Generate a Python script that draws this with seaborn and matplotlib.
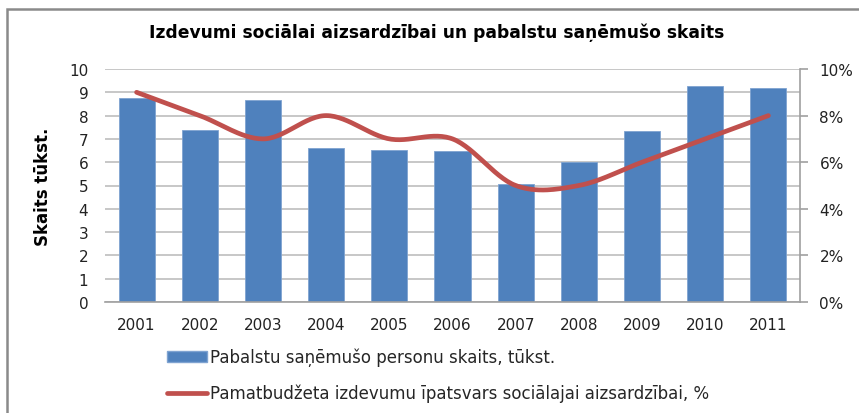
import numpy as np
import pandas as pd
import matplotlib
matplotlib.use("Agg")
import matplotlib.pyplot as plt
import seaborn as sns
from matplotlib.patches import Patch, Rectangle
from matplotlib.lines import Line2D
from matplotlib.ticker import FuncFormatter

years = ["2001", "2002", "2003", "2004", "2005", "2006", "2007", "2008", "2009", "2010", "2011"]
persons = [8.75, 7.37, 8.67, 6.6, 6.52, 6.47, 5.05, 6.0, 7.35, 9.27, 9.18]
share_pct = [9, 8, 7, 8, 7, 7, 5, 5, 6, 7, 8]

title = "Izdevumi sociālai aizsardzībai un pabalstu saņēmušo skaits"
ylabel = "Skaits tūkst."
bar_label = "Pabalstu saņēmušo personu skaits, tūkst."
line_label = "Pamatbudžeta izdevumu īpatsvars sociālajai aizsardzībai, %"

sns.set_theme(style="white")
plt.rcParams["font.family"] = ["DejaVu Sans"]

BLUE = "#4F81BD"
RED = "#C0504D"
GRID = "#BEBEBE"

fig = plt.figure(figsize=(8.59, 4.14), dpi=100)
ax = fig.add_axes([105 / 859, 1 - 303 / 414, 695 / 859, 233 / 414])

df = pd.DataFrame({"year": years, "persons": persons})
sns.barplot(data=df, x="year", y="persons", color=BLUE, width=0.57,
            edgecolor="#7FA3D1", linewidth=0.6, saturation=1, ax=ax, zorder=2)

ax.set_xlim(-0.5, len(years) - 0.5)
ax.set_ylim(0, 10)
ax.set_yticks(range(0, 11))
ax.yaxis.grid(True, color=GRID, linewidth=1.2, zorder=0)
ax.set_axisbelow(True)
for s in ["top", "left", "right"]:
    ax.spines[s].set_visible(False)
ax.spines["bottom"].set_color("#A0A0A0")
ax.spines["bottom"].set_linewidth(1.2)
ax.tick_params(axis="x", length=0, pad=11, labelsize=11, colors="#222222")
ax.tick_params(axis="y", length=0, pad=12, labelsize=11, colors="#222222")
ax.set_xlabel("")
ax.set_ylabel(ylabel, fontsize=12, fontweight="bold", labelpad=12, color="black")

# secondary axis (percent)
ax2 = ax.twinx()
ax2.set_ylim(0, 10)
ax2.set_yticks(range(0, 11, 2))
ax2.yaxis.set_major_formatter(FuncFormatter(lambda v, p: f"{int(v)}%"))
for s in ["top", "left", "bottom"]:
    ax2.spines[s].set_visible(False)
ax2.spines["right"].set_color("#A0A0A0")
ax2.spines["right"].set_linewidth(1.2)
ax2.tick_params(axis="y", length=6, width=1.2, color="#A0A0A0", direction="out",
                pad=8, labelsize=11, labelcolor="#222222")
ax2.grid(False)

# smoothed line (Catmull-Rom rendering, like Excel's smoothed line)
xs = np.arange(len(share_pct), dtype=float)
ys = np.array(share_pct, dtype=float)
px = np.concatenate([[2 * xs[0] - xs[1]], xs, [2 * xs[-1] - xs[-2]]])
py = np.concatenate([[2 * ys[0] - ys[1]], ys, [2 * ys[-1] - ys[-2]]])
sx, sy = [], []
for i in range(1, len(px) - 2):
    t = np.linspace(0, 1, 30, endpoint=(i == len(px) - 3))
    p0, p1, p2, p3 = py[i - 1], py[i], py[i + 1], py[i + 2]
    q0, q1, q2, q3 = px[i - 1], px[i], px[i + 1], px[i + 2]
    def cr(a0, a1, a2, a3):
        return 0.5 * ((2 * a1) + (-a0 + a2) * t + (2 * a0 - 5 * a1 + 4 * a2 - a3) * t ** 2
                      + (-a0 + 3 * a1 - 3 * a2 + a3) * t ** 3)
    sx.extend(cr(q0, q1, q2, q3))
    sy.extend(cr(p0, p1, p2, p3))
sns.lineplot(x=sx, y=sy, color=RED, linewidth=3.4, ax=ax2, sort=False,
             solid_capstyle="round", zorder=5)

fig.text(437 / 859, 1 - 33 / 414, title, ha="center", va="center",
         fontsize=12.3, fontweight="bold", color="black")

handles = [Patch(facecolor=BLUE, edgecolor="#7FA3D1", label=bar_label),
           Line2D([0], [0], color=RED, linewidth=3.4, label=line_label)]
fig.legend(handles=handles, loc="upper left", bbox_to_anchor=(167 / 859, 1 - 349 / 414),
           frameon=False, fontsize=12, handlelength=2.4, handleheight=0.6,
           handletextpad=0.15, labelspacing=1.05, borderpad=0, borderaxespad=0)

# outer frame
fig.add_artist(Rectangle((7 / 859, -0.1), 1.2, 1 - 10 / 414 + 0.1,
                         transform=fig.transFigure, fill=False,
                         edgecolor="#8A8A8A", linewidth=1.8))

fig.savefig("out.png", dpi=100)
